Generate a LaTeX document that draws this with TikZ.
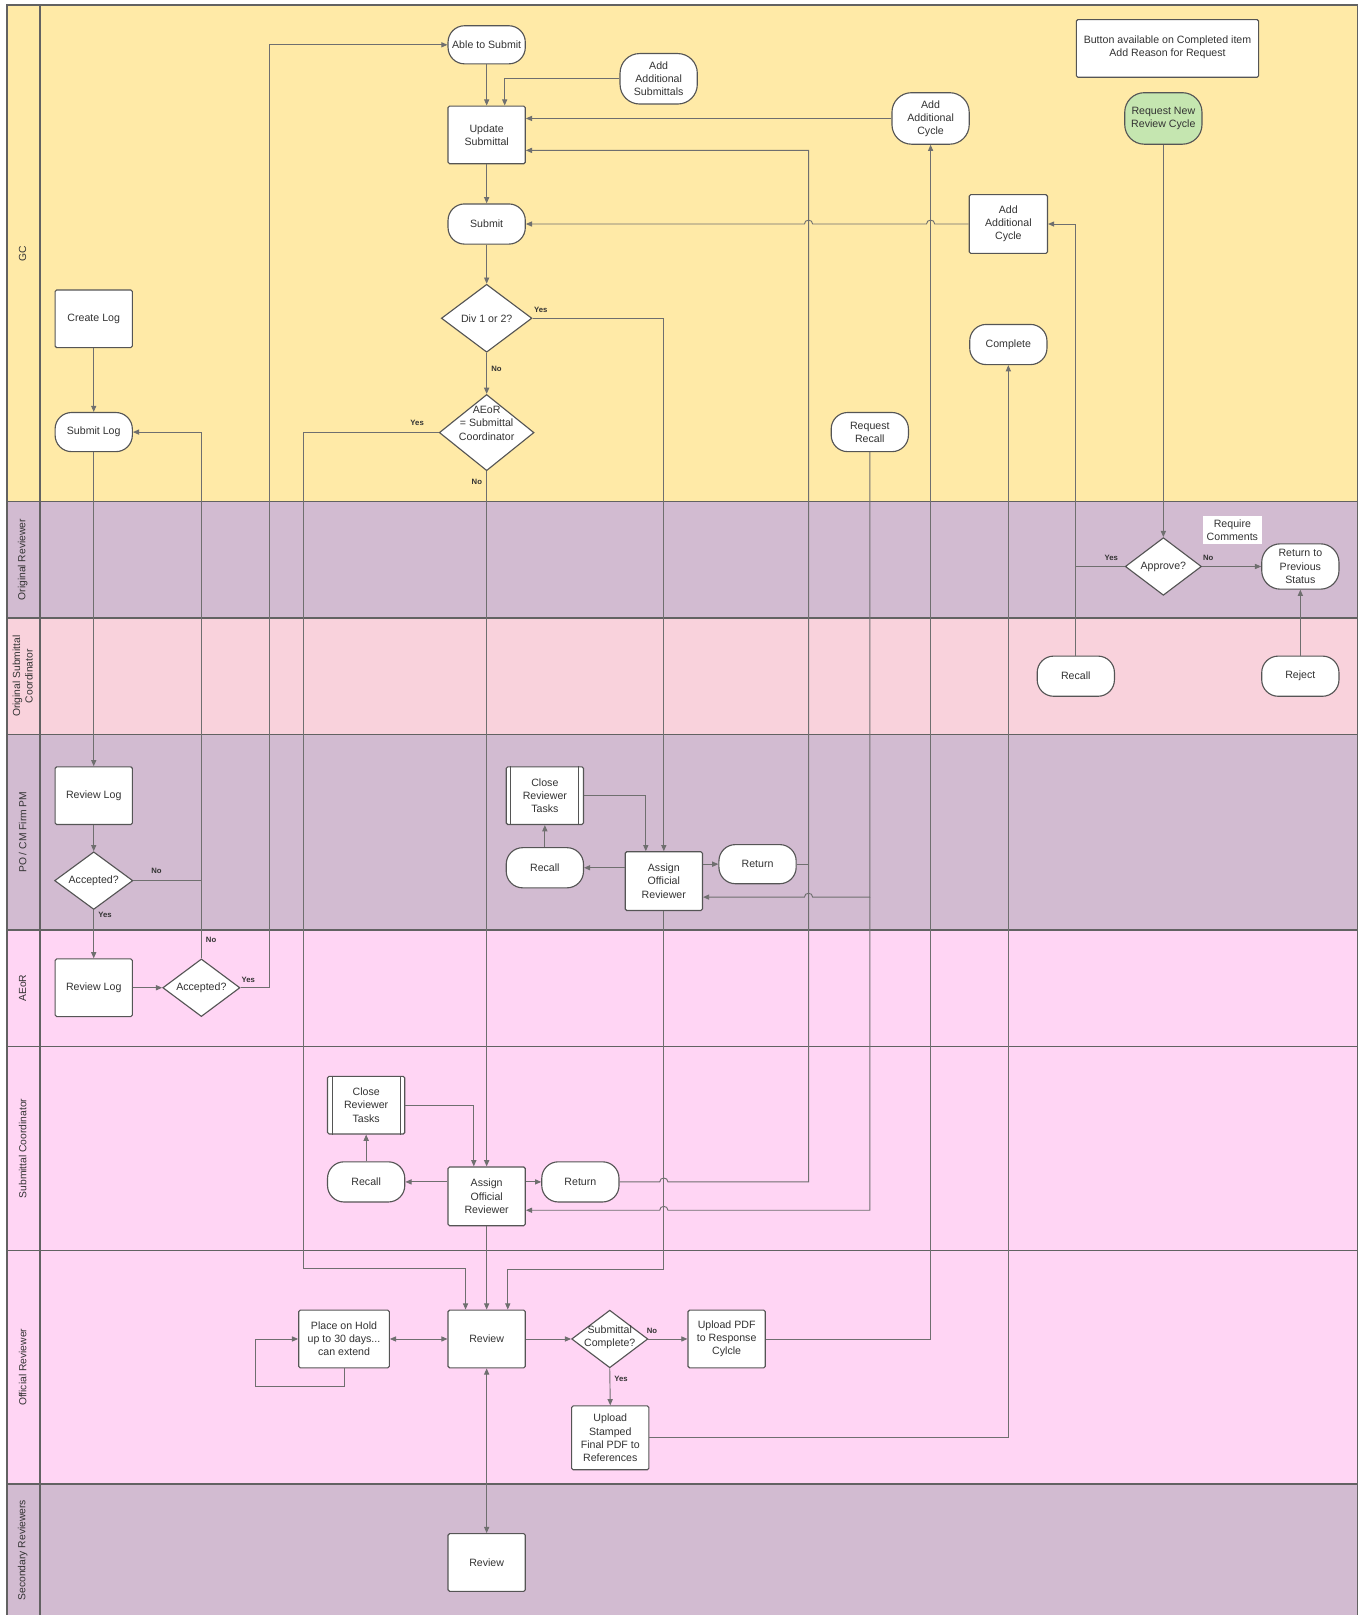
\documentclass[tikz,border=0pt]{standalone}
\usepackage{fontspec}
\setmainfont{Liberation Sans}
\setsansfont{Liberation Sans}
\usetikzlibrary{shapes.geometric,arrows.meta,calc}
\definecolor{gcY}{HTML}{FFEAA7}
\definecolor{mauve}{HTML}{D2BBD1}
\definecolor{pinkA}{HTML}{F9D2DC}
\definecolor{pinkB}{HTML}{FFD5F4}
\definecolor{greenN}{HTML}{C5E6B0}
\definecolor{laneLine}{HTML}{626262}
\definecolor{connC}{HTML}{6F6F6F}
\definecolor{nodeLine}{HTML}{555555}
\definecolor{txt}{HTML}{333333}
\begin{document}
\begin{tikzpicture}[x=1pt,y=-1pt,
  base/.style={draw=nodeLine,fill=white,line width=1.1pt,align=center,text=txt,
    font=\fontsize{10.3}{12.8}\selectfont,inner sep=1pt},
  box/.style={base,rectangle,rounded corners=1.5pt,minimum width=75pt,minimum height=56pt},
  term/.style={base,rectangle,rounded corners=16pt,minimum width=75pt,minimum height=38pt},
  dec/.style={base,diamond,inner sep=0pt},
  dtext/.style={align=center,text=txt,font=\fontsize{10.3}{12.8}\selectfont,inner sep=0pt},
  lanelab/.style={rotate=90,align=center,text=txt,font=\fontsize{10}{12}\selectfont},
  yn/.style={text=txt,font=\fontsize{7.5}{9}\selectfont\bfseries,inner sep=0pt},
  laneL/.style={draw=laneLine,line width=1.5pt},
  conn/.style={draw=connC,line width=0.9pt},
  arr/.style={conn,-{Triangle[length=6pt,width=5pt]}},
  arrb/.style={conn,{Triangle[length=6pt,width=5pt]}-{Triangle[length=6pt,width=5pt]}}
]
\useasboundingbox (0,0) rectangle (1320,1568);
% ---------- lanes ----------
\fill[gcY] (7,5) rectangle (1318,487);
\fill[mauve] (7,487) rectangle (1318,600);
\fill[pinkA] (7,600) rectangle (1318,713);
\fill[mauve] (7,713) rectangle (1318,903);
\fill[pinkB] (7,903) rectangle (1318,1441);
\fill[mauve] (7,1441) rectangle (1318,1568);
\draw[laneL] (7,1568) -- (7,5) -- (1318,5) -- (1318,1568);
\draw[laneL] (39,5) -- (39,1568);
\foreach \yy in {487,600,713,903,1016,1214,1441} \draw[laneL] (7,\yy) -- (1318,\yy);
\node[lanelab] (lGC) at (22,246) {GC};
\node[lanelab] (lOR) at (22,543.5) {Original Reviewer};
\node[lanelab] (lOSC) at (22,656.5) {Original Submittal\\Coordinator};
\node[lanelab] (lPM) at (22,808) {PO / CM Firm PM};
\node[lanelab] (lAE) at (22,959.5) {AEoR};
\node[lanelab] (lSC) at (22,1115) {Submittal Coordinator};
\node[lanelab] (lOff) at (22,1327.5) {Official Reviewer};
\node[lanelab] (lSec) at (22,1505) {Secondary Reviewers};
% ---------- GC nodes ----------
\node[term,minimum height=37pt] (ableSubmit) at (472.5,43.5) {Able to Submit};
\node[term,minimum height=49pt,rounded corners=19pt] (addSubm) at (639.5,76.5) {Add\\Additional\\Submittals};
\node[box] (updSubm) at (472.5,131) {Update\\Submittal};
\node[term,minimum height=39pt] (submit) at (472.5,217.5) {Submit};
\node[dec,minimum width=88pt,minimum height=66pt,label={[dtext]center:Div 1 or 2?}] (div12) at (472.5,309) {};
\node[dec,minimum width=92pt,minimum height=74pt,label={[dtext,yshift=9pt]center:{AEoR\\= Submittal\\Coordinator}}] (aeorDec) at (472.5,420) {};
\node[box] (createLog) at (91,309.5) {Create Log};
\node[term] (submitLog) at (91,419.5) {Submit Log};
\node[term,minimum height=50pt,rounded corners=19pt] (addCycT) at (903.5,115) {Add\\Additional\\Cycle};
\node[box,minimum width=76pt,minimum height=57pt] (addCycB) at (979,217.5) {Add\\Additional\\Cycle};
\node[term,minimum height=39pt] (complete) at (979,334.5) {Complete};
\node[term] (reqRecall) at (844.5,419.5) {Request\\Recall};
\node[box,minimum width=177pt,minimum height=56pt,yshift=0pt] (note) at (1133.5,47) {};
\node[dtext] (noteT) at (1133.5,45.5) {Button available on Completed item\\Add Reason for Request};
\node[term,fill=greenN,minimum height=50pt,rounded corners=19pt] (reqNew) at (1129.5,115) {Request New\\Review Cycle};
% ---------- Original reviewer / coordinator ----------
\node[dec,minimum width=74pt,minimum height=56pt,label={[dtext]center:Approve?}] (approve) at (1129.5,550) {};
\node[base,draw=none,minimum width=57pt,minimum height=27pt] (reqCom) at (1196.5,514.5) {Require\\Comments};
\node[term,minimum height=44pt,rounded corners=18pt] (retPrev) at (1262.5,550) {Return to\\Previous\\Status};
\node[term,minimum height=39pt] (osRecall) at (1044.5,656.5) {Recall};
\node[term,minimum height=39pt] (reject) at (1262.5,656.5) {Reject};
% ---------- PO / CM ----------
\node[box] (pmReview) at (91,772.5) {Review Log};
\node[dec,minimum width=76pt,minimum height=56pt,label={[dtext]center:Accepted?}] (pmAcc) at (91,855) {};
\node[box] (pmClose) at (529,772.5) {Close\\Reviewer\\Tasks};
\node[term,minimum height=39pt] (pmRecall) at (529,842.5) {Recall};
\node[box,minimum height=57pt] (pmAssign) at (644.5,855.5) {Assign\\Official\\Reviewer};
\node[term] (pmReturn) at (735.5,839) {Return};
% ---------- AEoR ----------
\node[box] (aeReview) at (91,959) {Review Log};
\node[dec,minimum width=75pt,minimum height=56pt,label={[dtext]center:Accepted?}] (aeAcc) at (195.5,959) {};
% ---------- Submittal coordinator ----------
\node[box] (scClose) at (355.5,1073) {Close\\Reviewer\\Tasks};
\node[term,minimum height=39pt] (scRecall) at (355.5,1147.5) {Recall};
\node[box,minimum height=57pt] (scAssign) at (472.5,1161.5) {Assign\\Official\\Reviewer};
\node[term,minimum height=39pt] (scReturn) at (563.5,1147.5) {Return};
% ---------- Official reviewer ----------
\node[box,minimum width=88pt] (hold) at (334,1300) {Place on Hold\\up to 30 days...\\can extend};
\node[box] (orReview) at (472.5,1300) {Review};
\node[dec,minimum width=74pt,minimum height=56pt,label={[dtext,yshift=1.5pt]center:{Submittal\\Complete?}}] (subComp) at (592,1300) {};
\node[box] (uplPdf) at (705.5,1300) {Upload PDF\\to Response\\Cylcle};
\node[box,minimum height=62pt] (uplStamp) at (592.5,1396) {Upload\\Stamped\\Final PDF to\\References};
% ---------- Secondary ----------
\node[box] (secReview) at (472.5,1517) {Review};
% predefined-process bars
\foreach \n in {pmClose,scClose}{
  \draw[draw=nodeLine,line width=1.1pt] ([xshift=5pt]\n.north west) -- ([xshift=5pt]\n.south west);
  \draw[draw=nodeLine,line width=1.1pt] ([xshift=-5pt]\n.north east) -- ([xshift=-5pt]\n.south east);
}
% ---------- connectors ----------
\draw[arr] (ableSubmit.south) -- (updSubm.north);
\draw[arr] (addSubm.west) -| ([xshift=17.5pt]updSubm.north);
\draw[arr] (addCycT.west) -- (addCycT.west -| updSubm.east);
\draw[arr] (scReturn.east) -- (640.5,1147.5) .. controls +(0,-5) and +(0,-5) .. (648.5,1147.5)
   -- (785,1147.5) -- (785,146) -- ([yshift=-15pt]updSubm.east);
\draw[conn] (pmReturn.east) -- (785,839);
\draw[arr] (updSubm.south) -- (submit.north);
\draw[arr] (addCycB.west) -- (907.5,217.5) .. controls +(0,-5) and +(0,-5) .. (899.5,217.5)
   -- (789,217.5) .. controls +(0,-5) and +(0,-5) .. (781,217.5) -- (submit.east);
\draw[arr] (submit.south) -- (div12.north);
\draw[arr] (div12.east) -| (pmAssign.north);
\node[yn] (ynDivY) at (525,301) {Yes};
\draw[arr] (div12.south) -- (aeorDec.north);
\node[yn] (ynDivN) at (482,358) {No};
\draw[arr] (aeorDec.west) -| (295,1232) -| ([xshift=-20.5pt]orReview.north);
\node[yn] (ynAeY) at (405,411) {Yes};
\draw[arr] (aeorDec.south) -- (scAssign.north);
\node[yn] (ynAeN) at (463,468) {No};
\draw[arr] (createLog.south) -- (submitLog.north);
\draw[arr] (submitLog.south) -- (pmReview.north);
\draw[arr] (pmReview.south) -- (pmAcc.north);
\draw[conn] (pmAcc.east) -- (195.5,855);
\node[yn] (ynPmN) at (152,846) {No};
\draw[arr] (aeAcc.north) |- (submitLog.east);
\node[yn] (ynAcN) at (205,913) {No};
\draw[arr] (pmAcc.south) -- (aeReview.north);
\node[yn] (ynPmY) at (102,888) {Yes};
\draw[arr] (aeReview.east) -- (aeAcc.west);
\draw[arr] (aeAcc.east) -- (262,959) |- (ableSubmit.west);
\node[yn] (ynAcY) at (241,951) {Yes};
\draw[arr] (pmClose.east) -| ([xshift=-17.5pt]pmAssign.north);
\draw[arr] (pmAssign.west |- pmRecall.east) -- (pmRecall.east);
\draw[arr] (pmRecall.north) -- (pmClose.south);
\draw[arr] (pmAssign.east |- pmReturn.west) -- (pmReturn.west);
\coordinate (rrJ) at (844.5,871);
\draw[arr] (reqRecall.south) -- (rrJ) -- (789,871) .. controls +(0,-5) and +(0,-5) .. (781,871)
   -- ([yshift=-15.5pt]pmAssign.east);
\draw[arr] (rrJ) -- (844.5,1175) -- (648.5,1175) .. controls +(0,-5) and +(0,-5) .. (640.5,1175)
   -- ([yshift=-13.5pt]scAssign.east);
\draw[arr] (pmAssign.south) -- ++(0,348) -| ([xshift=20.5pt]orReview.north);
\draw[arr] (scClose.east) -| ([xshift=-12.5pt]scAssign.north);
\draw[arr] (scAssign.west |- scRecall.east) -- (scRecall.east);
\draw[arr] (scRecall.north) -- (scClose.south);
\draw[arr] (scAssign.east |- scReturn.west) -- (scReturn.west);
\draw[arr] (scAssign.south) -- (orReview.north);
\draw[arrb] (hold.east) -- (orReview.west);
\draw[arr] (hold.south) |- (248,1346) |- (hold.west);
\draw[arr] (orReview.east) -- (subComp.west);
\draw[arr] (subComp.east) -- (uplPdf.west);
\node[yn] (ynScN) at (633,1292) {No};
\draw[arr] (subComp.south) -- (uplStamp.north);
\node[yn] (ynScY) at (603,1339) {Yes};
\draw[arr] (uplPdf.east) -| (addCycT.south);
\draw[arr] (uplStamp.east) -| (complete.south);
\draw[arrb] (orReview.south) -- (secReview.north);
\draw[arr] (reqNew.south) -- (approve.north);
\draw[conn] (approve.west) -- (1044.5,550);
\draw[arr] (osRecall.north) |- (addCycB.east);
\node[yn] (ynApY) at (1079,542) {Yes};
\draw[arr] (approve.east) -- (retPrev.west);
\node[yn] (ynApN) at (1173,542) {No};
\draw[arr] (reject.north) -- (retPrev.south);
\end{tikzpicture}
\end{document}
